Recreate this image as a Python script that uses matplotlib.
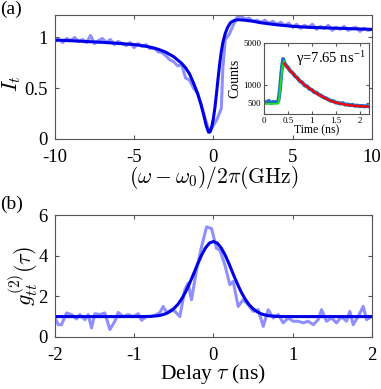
import matplotlib
matplotlib.use("Agg")
import matplotlib.pyplot as plt

plt.rcParams["font.family"] = ["Liberation Serif", "DejaVu Serif"]
plt.rcParams["mathtext.fontset"] = "cm"
plt.rcParams["axes.unicode_minus"] = False

# (a) transmission spectrum: measured trace and fit
det_data = [-10, -9.75, -9.5, -9.25, -9, -8.75, -8.5, -8.25, -8, -7.75, -7.5, -7.25,
            -7, -6.75, -6.5, -6.25, -6, -5.75, -5.5, -5.25, -5, -4.75, -4.5, -4.25,
            -4, -3.75, -3.5, -3.25, -3, -2.75, -2.5, -2.25, -2, -1.75, -1.5, -1.25,
            -1, -0.75, -0.5, -0.25, 0, 0.25, 0.5, 0.6, 0.75, 1, 1.25, 1.5, 1.75,
            2, 2.25, 2.5, 2.75, 3, 3.25, 3.5, 3.75, 4, 4.25, 4.5, 4.75, 5, 5.25,
            5.5, 5.75, 6, 6.25, 6.5, 6.75, 7, 7.25, 7.5, 7.75, 8, 8.25, 8.5, 8.75,
            9, 9.25, 9.5, 9.75, 10]
it_data = [0.96, 0.98, 0.95, 0.99, 0.97, 1.0, 0.96, 0.98, 0.95, 1.02, 0.94, 0.97,
           0.99, 0.95, 0.98, 0.93, 0.96, 0.94, 0.92, 0.95, 0.9, 0.94, 0.91, 0.93,
           0.89, 0.9, 0.86, 0.85, 0.82, 0.78, 0.76, 0.72, 0.73, 0.6, 0.58, 0.5,
           0.45, 0.33, 0.19, 0.07, 0.13, 0.2, 0.3, 0.7, 0.98, 1.03, 1.12, 1.2, 1.21,
           1.18, 1.19, 1.16, 1.17, 1.15, 1.17, 1.14, 1.16, 1.13, 1.15, 1.12, 1.14, 1.1,
           1.13, 1.09, 1.12, 1.1, 1.13, 1.08, 1.11, 1.09, 1.12, 1.07, 1.1, 1.08, 1.11,
           1.07, 1.09, 1.1, 1.06, 1.09, 1.07, 1.08]

det_fit = [-10, -9, -8, -7, -6, -5, -4.5, -4, -3.5, -3, -2.5, -2, -1.75, -1.5,
           -1.25, -1, -0.8, -0.6, -0.45, -0.3, -0.2, -0.1, 0, 0.1, 0.2, 0.3, 0.4,
           0.5, 0.6, 0.75, 0.9, 1.1, 1.35, 1.6, 2, 2.5, 3, 4, 5, 6, 7, 8, 9, 10]
it_fit = [0.975, 0.968, 0.96, 0.952, 0.942, 0.93, 0.92, 0.905, 0.885, 0.855, 0.81,
          0.745, 0.70, 0.64, 0.55, 0.45, 0.35, 0.23, 0.13, 0.065, 0.07, 0.12, 0.2,
          0.31, 0.45, 0.6, 0.74, 0.86, 0.95, 1.04, 1.1, 1.15, 1.17, 1.175, 1.17,
          1.16, 1.145, 1.125, 1.11, 1.1, 1.095, 1.09, 1.085, 1.08]

# inset: lifetime measurement
t_data = [0, 0.05, 0.1, 0.15, 0.2, 0.25, 0.3, 0.33, 0.36, 0.38, 0.4, 0.42, 0.45,
          0.5, 0.55, 0.6, 0.65, 0.7, 0.75, 0.8, 0.85, 0.9, 0.95, 1.0, 1.05, 1.1,
          1.15, 1.2, 1.25, 1.3, 1.35, 1.4, 1.45, 1.5, 1.55, 1.6, 1.65, 1.7, 1.75,
          1.8, 1.85, 1.9, 1.95, 2.0, 2.05, 2.1, 2.15, 2.2]
counts_data = [530, 510, 545, 500, 525, 515, 540, 800, 1500, 2100, 2700, 2400, 2150,
               1950, 1700, 1580, 1400, 1300, 1150, 1100, 980, 950, 860, 830, 760, 740,
               690, 660, 620, 600, 570, 545, 540, 510, 505, 490, 500, 470, 475, 460,
               470, 450, 455, 445, 450, 440, 448, 440]
t_rise = [0, 0.1, 0.2, 0.3, 0.33, 0.36, 0.38, 0.4, 0.42]
counts_rise = [485, 485, 485, 490, 750, 1300, 1800, 2250, 2500]
t_decay = [0.42, 0.5, 0.6, 0.7, 0.8, 0.9, 1.0, 1.1, 1.2, 1.3, 1.4, 1.5, 1.6, 1.7,
           1.8, 1.9, 2.0, 2.1, 2.2]
counts_decay = [2250, 1900, 1550, 1280, 1080, 930, 820, 720, 650, 590, 540, 510,
                490, 470, 460, 450, 445, 440, 438]

# (b) second-order correlation
tau_data = [-2.0, -1.958, -1.916, -1.853, -1.79, -1.727, -1.685, -1.621, -1.579,
            -1.537, -1.495, -1.432, -1.369, -1.306, -1.243, -1.201, -1.138, -1.075,
            -1.012, -0.948, -0.906, -0.843, -0.78, -0.717, -0.675, -0.633, -0.591,
            -0.528, -0.486, -0.423, -0.36, -0.318, -0.276, -0.212, -0.149, -0.086,
            -0.023, 0.04, 0.082, 0.145, 0.208, 0.25, 0.313, 0.376, 0.44, 0.503,
            0.566, 0.629, 0.692, 0.755, 0.818, 0.881, 0.944, 1.007, 1.07, 1.134,
            1.197, 1.26, 1.323, 1.365, 1.428, 1.491, 1.554, 1.617, 1.68, 1.722,
            1.764, 1.827, 1.891, 1.933, 1.996]
g2_data = [0.96, 0.6, 0.6, 1.18, 1.1, 0.88, 1.1, 0.85, 1.1, 0.44, 1.14, 1.1, 1.18,
           0.36, 0.77, 1.2, 1.0, 1.1, 1.0, 1.14, 0.82, 1.0, 1.0, 1.1, 1.2, 1.5, 1.2,
           1.34, 1.26, 1.0, 2.32, 2.65, 1.83, 3.3, 4.44, 5.42, 5.34, 4.36, 4.28, 3.55,
           2.57, 2.73, 1.5, 1.83, 1.58, 1.26, 1.34, 0.52, 1.34, 0.93, 1.1, 0.69,
           0.93, 0.77, 0.77, 0.69, 0.77, 0.6, 0.85, 1.34, 0.77, 0.93, 0.69, 1.0,
           0.77, 1.26, 0.6, 1.0, 1.5, 0.85, 1.0]
tau_fit = [-2, -1.5, -1, -0.9, -0.8, -0.7, -0.65, -0.6, -0.55, -0.5, -0.45, -0.4,
           -0.35, -0.3, -0.25, -0.2, -0.15, -0.1, -0.05, 0, 0.05, 0.1, 0.15, 0.2,
           0.25, 0.3, 0.35, 0.4, 0.45, 0.5, 0.55, 0.6, 0.65, 0.7, 0.8, 0.9, 1, 1.5, 2]
g2_fit = [1.0, 1.0, 1.0, 1.0, 1.01, 1.04, 1.08, 1.14, 1.24, 1.39, 1.59, 1.87, 2.22,
          2.64, 3.1, 3.58, 4.02, 4.38, 4.62, 4.7, 4.62, 4.38, 4.02, 3.58, 3.1, 2.64,
          2.22, 1.87, 1.59, 1.39, 1.24, 1.14, 1.08, 1.04, 1.01, 1.0, 1.0, 1.0, 1.0]

data_color = (0.45, 0.45, 1.0)
fit_color = (0.0, 0.0, 0.9)
spine_color = "#555555"


def style_axes(ax, size=13.5):
    ax.tick_params(direction="in", top=True, right=True, labelsize=size,
                   length=3, color=spine_color)
    ax.tick_params(axis="x", pad=7)
    ax.tick_params(axis="y", pad=5)
    for s in ax.spines.values():
        s.set_color(spine_color)
        s.set_linewidth(0.8)


fig = plt.figure(figsize=(3.81, 3.89), dpi=100)

ax1 = fig.add_axes([0.144, 0.643, 0.832, 0.318])
ax1.plot(det_data, it_data, color=data_color, lw=2.2, alpha=0.8)
ax1.plot(det_fit, it_fit, color=fit_color, lw=2.2)
ax1.set_xlim(-10, 10)
ax1.set_ylim(0, 1.22)
ax1.set_xticks([-10, -5, 0, 5, 10])
ax1.set_yticks([0, 0.5, 1])
ax1.set_yticklabels(["0", "0.5", "1"])
ax1.set_xlabel(r"$(\omega-\omega_0)/2\pi(\mathrm{GHz})$", fontsize=15.5, labelpad=-1)
ax1.set_ylabel(r"$I_t$", fontsize=16)
ax1.yaxis.set_label_coords(-0.1, 0.45)
style_axes(ax1)

ins = fig.add_axes([0.693, 0.707, 0.276, 0.183])
ins.plot(t_data, counts_data, color="#1f6fc0", lw=2.8)
ins.plot(t_rise, counts_rise, color="#22dd22", lw=1.3)
ins.plot(t_decay, counts_decay, color="red", lw=1.6)
ins.set_yscale("log")
ins.set_xlim(0, 2.2)
ins.set_ylim(330, 5000)
ins.set_xticks([0, 0.5, 1, 1.5, 2])
ins.set_xticklabels(["0", "0.5", "1", "1.5", "2"])
ins.set_yticks([500, 1000, 5000])
ins.set_yticklabels(["500", "1000", "5000"])
ins.minorticks_off()
ins.set_xlabel("Time (ns)", fontsize=8.5, labelpad=0)
ins.set_ylabel("Counts", fontsize=10, labelpad=1)
style_axes(ins, size=6.5)
ins.tick_params(length=2, pad=2)
ins.text(0.97, 0.92, "γ=7.65 ns$^{\\mathregular{-1}}$",
         transform=ins.transAxes, ha="right", va="top", fontsize=10.5)

ax2 = fig.add_axes([0.144, 0.134, 0.832, 0.313])
ax2.plot(tau_data, g2_data, color=data_color, lw=2.2, alpha=0.8)
ax2.plot(tau_fit, g2_fit, color=fit_color, lw=2.2)
ax2.set_xlim(-2, 2)
ax2.set_ylim(0, 6)
ax2.set_xticks([-2, -1, 0, 1, 2])
ax2.set_yticks([0, 2, 4, 6])
ax2.set_xlabel(r"Delay $\tau$ (ns)", fontsize=15.5, labelpad=-1)
ax2.set_ylabel(r"$g^{(2)}_{tt}(\tau)$", fontsize=16, labelpad=-1)
style_axes(ax2)

fig.text(0.0, 0.998, "(a)", fontsize=14, va="top", ha="left")
fig.text(0.0, 0.497, "(b)", fontsize=14, va="top", ha="left")

fig.savefig("out.png", dpi=100)
